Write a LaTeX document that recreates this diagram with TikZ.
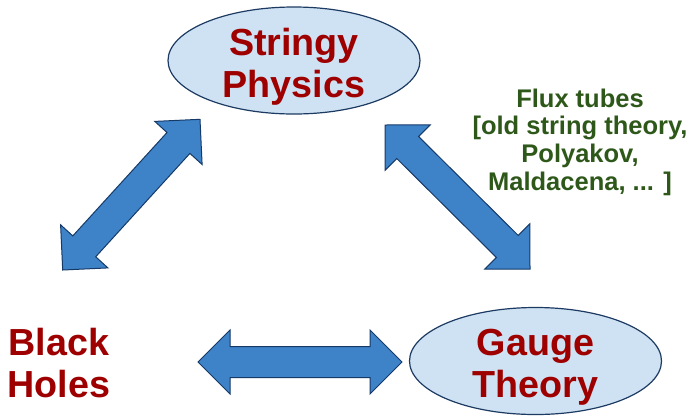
\documentclass[tikz,border=0pt]{standalone}
\usepackage{fontspec}
\setmainfont{Liberation Sans}
\usetikzlibrary{shapes.geometric,calc}

\definecolor{titlered}{RGB}{158,0,0}
\definecolor{notegreen}{RGB}{46,88,26}
\definecolor{bubblefill}{RGB}{207,226,243}
\definecolor{bubbleline}{RGB}{28,58,98}
\definecolor{arrowfill}{RGB}{62,130,200}
\definecolor{arrowline}{RGB}{22,58,104}

% fat two-headed arrow between two coordinates
\newcommand{\fatarrow}[2]{%
    \draw[fat arrow] (#1)
        -- ($(#1)!32pt!(#2)!32pt!90:(#2)$)
        -- ($(#1)!32pt!(#2)!15.5pt!90:(#2)$)
        -- ($(#2)!32pt!(#1)!15.5pt!-90:(#1)$)
        -- ($(#2)!32pt!(#1)!32pt!-90:(#1)$)
        -- (#2)
        -- ($(#2)!32pt!(#1)!32pt!90:(#1)$)
        -- ($(#2)!32pt!(#1)!15.5pt!90:(#1)$)
        -- ($(#1)!32pt!(#2)!15.5pt!-90:(#2)$)
        -- ($(#1)!32pt!(#2)!32pt!-90:(#2)$)
        -- cycle;}

% taller first line, last line without depth
\newcommand{\twolines}[2]{\rule{0pt}{31pt}#1\\\raisebox{0pt}[\height][0pt]{#2}}

\begin{document}
\begin{tikzpicture}[
            x=1pt, y=-1pt,
            bubble/.style={draw=bubbleline, line width=1.2pt, fill=bubblefill, ellipse,
                minimum width=252pt, minimum height=107pt, inner sep=0pt},
            big/.style={text=titlered, align=center, inner sep=0pt,
                font=\fontsize{37.7}{42}\selectfont\bfseries},
            note/.style={text=notegreen, align=center, inner sep=0pt,
                font=\fontsize{25.5}{27.7}\selectfont\bfseries},
            fat arrow/.style={draw=arrowline, line width=1pt, fill=arrowfill}
        ]
        \useasboundingbox (0,0) rectangle (692,416);
        \node[bubble, big] (SP) at (294,60.5) {\twolines{Stringy}{Physics}};
        \node[bubble, big] (GT) at (535.5,361) {\twolines{Gauge}{Theory}};
        \node[big] (BH) at (59,360.5) {\twolines{Black}{Holes}};
        \node[note] (FT) at (580,142) {Flux tubes\\{[}old string theory,\\Polyakov,\\Maldacena, ... ]};

        \coordinate (bh-ne) at (62.7,270);
        \coordinate (sp-sw) at (200,119.3);
        \coordinate (sp-se) at (385,125);
        \coordinate (gt-nw) at (530,269);
        \coordinate (bh-e) at (198,362);
        \coordinate (gt-w) at (402,362);

        \fatarrow{bh-ne}{sp-sw}
        \fatarrow{sp-se}{gt-nw}
        \fatarrow{bh-e}{gt-w}
    \end{tikzpicture}
\end{document}
